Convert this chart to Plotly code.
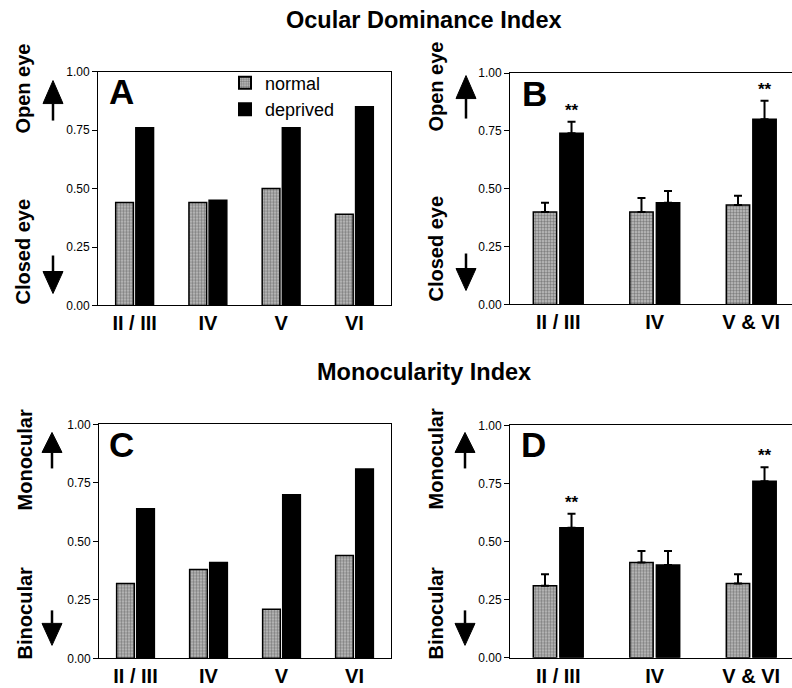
import plotly.graph_objects as go

W, H = 792, 688

# ---------------- data ----------------
layers_AC = ["II / III", "IV", "V", "VI"]
layers_BD = ["II / III", "IV", "V & VI"]

odi_A_normal = [0.44, 0.44, 0.50, 0.39]
odi_A_deprived = [0.76, 0.45, 0.76, 0.85]

odi_B_normal = [0.40, 0.40, 0.43]
odi_B_normal_err = [0.04, 0.06, 0.04]
odi_B_deprived = [0.74, 0.44, 0.80]
odi_B_deprived_err = [0.05, 0.05, 0.08]
odi_B_signif = ["**", "", "**"]

mi_C_normal = [0.32, 0.38, 0.21, 0.44]
mi_C_deprived = [0.64, 0.41, 0.70, 0.81]

mi_D_normal = [0.31, 0.41, 0.32]
mi_D_normal_err = [0.05, 0.05, 0.04]
mi_D_deprived = [0.56, 0.40, 0.76]
mi_D_deprived_err = [0.06, 0.06, 0.06]
mi_D_signif = ["**", "", "**"]

y_ticks = [0.0, 0.25, 0.50, 0.75, 1.0]
y_ticktext = ["0.00", "0.25", "0.50", "0.75", "1.00"]

# ---------------- style ----------------
FONT = "Liberation Sans, Arial, sans-serif"
BARGAP = 0.45
GROUPGAP = 0.12
OY, SY = 6.4, 0.98 * 688   # measured vertical placement of the drawing on screen
normal_marker = dict(
    color="#a8a8a8",
    line=dict(color="black", width=1.5),
    pattern=dict(shape=".", bgcolor="#c2c2c2", fgcolor="#3a3a3a", size=3, solidity=0.5),
)
deprived_marker = dict(color="black", line=dict(color="black", width=1.5))


def px(x):
    return x / W


def py(y):
    return 1 - (y - OY) / SY


fig = go.Figure()


def add_panel(idx, cats, normal, deprived, nerr=None, derr=None, showlegend=False):
    xa = "x" if idx == 1 else f"x{idx}"
    ya = "y" if idx == 1 else f"y{idx}"
    ne = None
    de = None
    if nerr is not None:
        ne = dict(type="data", array=nerr, arrayminus=[0] * len(nerr), symmetric=False,
                  color="black", thickness=2, width=4)
        de = dict(type="data", array=derr, arrayminus=[0] * len(derr), symmetric=False,
                  color="black", thickness=2, width=4)
    fig.add_trace(go.Bar(x=cats, y=normal, name="normal", marker=normal_marker,
                         error_y=ne, xaxis=xa, yaxis=ya, showlegend=showlegend,
                         legendgroup="normal"))
    fig.add_trace(go.Bar(x=cats, y=deprived, name="deprived", marker=deprived_marker,
                         error_y=de, xaxis=xa, yaxis=ya, showlegend=showlegend,
                         legendgroup="deprived"))


add_panel(1, layers_AC, odi_A_normal, odi_A_deprived, showlegend=True)
add_panel(2, layers_BD, odi_B_normal, odi_B_deprived, odi_B_normal_err, odi_B_deprived_err)
add_panel(3, layers_AC, mi_C_normal, mi_C_deprived)
add_panel(4, layers_BD, mi_D_normal, mi_D_deprived, mi_D_normal_err, mi_D_deprived_err)

# panel geometry in pixels: (left, right, top, bottom)
geom = {
    1: (98, 391, 71, 305),
    2: (510, 792, 72.5, 304),
    3: (99, 391, 424, 658),
    4: (510, 792, 425, 657.5),
}

xcommon = dict(type="category", showline=True, linecolor="black", linewidth=1,
               ticks="", showgrid=False, zeroline=False,
               tickfont=dict(family=FONT, size=20, color="black", weight="bold"))
ycommon = dict(range=[0, 1], tickvals=y_ticks, ticktext=y_ticktext, ticks="outside",
               ticklen=5, tickwidth=1, tickcolor="black", showline=True,
               linecolor="black", linewidth=1, showgrid=False, zeroline=False,
               tickfont=dict(family=FONT, size=12, color="black"))

layout_axes = {}
for i, (l, r, t, b) in geom.items():
    xs = "xaxis" if i == 1 else f"xaxis{i}"
    ys = "yaxis" if i == 1 else f"yaxis{i}"
    anchor_x = "x" if i == 1 else f"x{i}"
    anchor_y = "y" if i == 1 else f"y{i}"
    ncat = 4 if i in (1, 3) else 3
    if i in (1, 3):
        xr = [-0.5, ncat - 0.5]
    else:
        spacing = 96.5
        xr = [-0.5, -0.5 + (r - l) / spacing]
    layout_axes[xs] = dict(xcommon, domain=[px(l), px(r)], anchor=anchor_y, range=xr,
                           mirror=True)
    layout_axes[ys] = dict(ycommon, domain=[py(b), py(t)], anchor=anchor_x,
                           mirror=(i in (1, 3)))

fig.update_layout(**layout_axes)

fig.update_layout(
    width=W, height=H,
    margin=dict(l=0, r=0, t=0, b=0),
    paper_bgcolor="white", plot_bgcolor="white",
    barmode="group", bargap=BARGAP, bargroupgap=GROUPGAP,
    font=dict(family=FONT, color="black"),
    legend=dict(x=px(225), y=py(64), xanchor="left", yanchor="top",
                bgcolor="rgba(0,0,0,0)", font=dict(family=FONT, size=18, color="black"),
                tracegroupgap=0, itemsizing="constant"),
)

annotations = []

# titles
annotations.append(dict(text="<b>Ocular Dominance Index</b>", x=px(424), y=py(19),
                        xref="paper", yref="paper", xanchor="center", yanchor="middle",
                        showarrow=False, font=dict(family=FONT, size=23.5, color="black")))
annotations.append(dict(text="<b>Monocularity Index</b>", x=px(424), y=py(372),
                        xref="paper", yref="paper", xanchor="center", yanchor="middle",
                        showarrow=False, font=dict(family=FONT, size=23.5, color="black")))

# panel letters
for letter, (lx, ly) in {"A": (107, 91), "B": (520, 93), "C": (107, 444), "D": (519, 444)}.items():
    annotations.append(dict(text=f"<b>{letter}</b>", x=px(lx), y=py(ly), xref="paper",
                            yref="paper", xanchor="left", yanchor="middle", showarrow=False,
                            font=dict(family=FONT, size=35, color="black")))

# y-axis side labels
side_labels = [
    ("Open eye", 23, 88), ("Closed eye", 23, 251),
    ("Open eye", 436, 86), ("Closed eye", 436, 248),
    ("Monocular", 25, 460), ("Binocular", 25, 613),
    ("Monocular", 436, 459), ("Binocular", 436, 613),
]
for txt, lx, ly in side_labels:
    annotations.append(dict(text=f"<b>{txt}</b>", x=px(lx), y=py(ly), xref="paper",
                            yref="paper", xanchor="center", yanchor="middle",
                            textangle=-90, showarrow=False,
                            font=dict(family=FONT, size=20, color="black")))

# significance stars above deprived bars
offset = (1 - BARGAP) / 4
for xa, ya, vals, errs, sig in [("x2", "y2", odi_B_deprived, odi_B_deprived_err, odi_B_signif),
                                ("x4", "y4", mi_D_deprived, mi_D_deprived_err, mi_D_signif)]:
    for i, (v, e, s) in enumerate(zip(vals, errs, sig)):
        if s:
            annotations.append(dict(text=f"<b>{s}</b>", x=i + offset, y=v + e, xref=xa, yref=ya,
                                    xanchor="center", yanchor="bottom", yshift=0,
                                    showarrow=False,
                                    font=dict(family=FONT, size=17, color="black")))

fig.update_layout(annotations=annotations)

# arrows (decorative, in paper coordinates)
shapes = []


def arrow(cx, tip, base, tail):
    hw = 10
    shapes.append(dict(type="path", xref="paper", yref="paper",
                       path=f"M {px(cx - hw)} {py(base)} L {px(cx)} {py(tip)} L {px(cx + hw)} {py(base)} Z",
                       fillcolor="black", line=dict(color="black", width=1)))
    shapes.append(dict(type="line", xref="paper", yref="paper", x0=px(cx), x1=px(cx),
                       y0=py(base), y1=py(tail), line=dict(color="black", width=2.5)))


arrow(53, 80, 103, 120)
arrow(53, 293, 271, 255)
arrow(466, 75, 98, 118)
arrow(466, 290, 268, 253)
arrow(52, 432, 452, 468)
arrow(52, 645, 623, 610)
arrow(465, 432, 452, 468)
arrow(465, 645, 623, 610)

fig.update_layout(shapes=shapes)

fig.write_html("out.html", config={"displayModeBar": False},
               post_script="document.body.style.margin='0px';")
